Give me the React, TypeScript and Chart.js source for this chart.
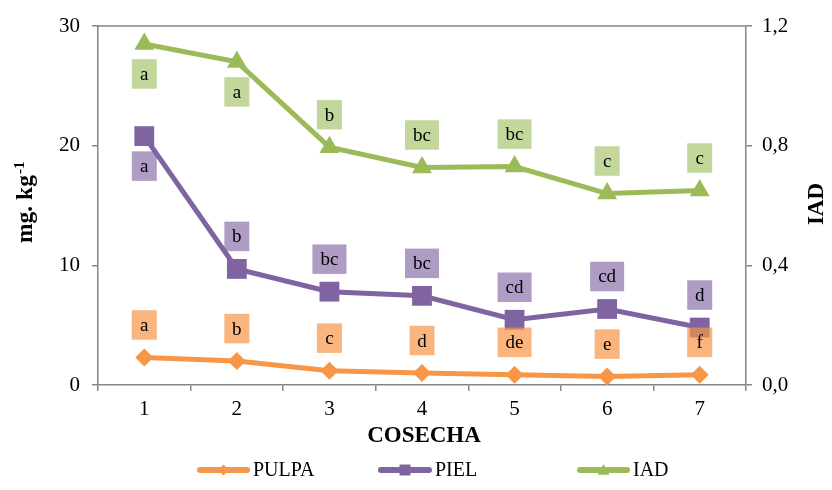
import React, { useEffect, useRef } from 'react';
import { Chart, registerables } from 'chart.js';

Chart.register(...registerables);

const SERIF = "'Liberation Serif', 'Times New Roman', serif";

const categories = ['1', '2', '3', '4', '5', '6', '7'];
const pulpa = [2.3, 2.0, 1.2, 1.0, 0.85, 0.7, 0.85];
const piel = [20.8, 9.7, 7.8, 7.45, 5.45, 6.35, 4.8];
const iad = [1.14, 1.08, 0.795, 0.727, 0.73, 0.64, 0.65];

const pulpaLetters = ['a', 'b', 'c', 'd', 'de', 'e', 'f'];
const pielLetters = ['a', 'b', 'bc', 'bc', 'cd', 'cd', 'd'];
const iadLetters = ['a', 'a', 'b', 'bc', 'bc', 'c', 'c'];

const pulpaBelow = [false, false, false, false, false, false, false];
const pielBelow = [true, false, false, false, false, false, false];
const iadBelow = [true, true, false, false, false, false, false];

const ORANGE = '#f79646';
const PURPLE = '#8064a2';
const GREEN = '#9bbb59';
const AXIS = '#868686';

function drawMarker(ctx: CanvasRenderingContext2D, shape: string, x: number, y: number, s: number) {
  ctx.beginPath();
  if (shape === 'diamond') {
    ctx.moveTo(x, y - s);
    ctx.lineTo(x + s, y);
    ctx.lineTo(x, y + s);
    ctx.lineTo(x - s, y);
  } else if (shape === 'square') {
    ctx.rect(x - s, y - s, 2 * s, 2 * s);
  } else {
    ctx.moveTo(x, y - s);
    ctx.lineTo(x + s, y + s * 0.8);
    ctx.lineTo(x - s, y + s * 0.8);
  }
  ctx.closePath();
  ctx.fill();
}

function noPad(s: any) {
  s.paddingTop = 0;
  s.paddingBottom = 0;
  s.paddingLeft = 0;
  s.paddingRight = 0;
}

const annotPlugin = {
  id: 'annot',
  afterDatasetsDraw(chart: any) {
    const ctx: CanvasRenderingContext2D = chart.ctx;
    const groups = [
      { ds: 0, letters: pulpaLetters, below: pulpaBelow, fill: 'rgba(247,150,70,0.7)' },
      { ds: 1, letters: pielLetters, below: pielBelow, fill: 'rgba(128,100,162,0.64)' },
      { ds: 2, letters: iadLetters, below: iadBelow, fill: 'rgba(155,187,89,0.6)' },
    ];
    ctx.save();
    ctx.font = `19px ${SERIF}`;
    ctx.textAlign = 'center';
    ctx.textBaseline = 'middle';
    groups.forEach((g) => {
      const meta = chart.getDatasetMeta(g.ds);
      meta.data.forEach((el: any, i: number) => {
        const t = g.letters[i];
        const w = t.length > 1 ? 34 : 25;
        const h = 29.5;
        const cy = el.y + (g.below[i] ? 30 : -32.5);
        ctx.fillStyle = g.fill;
        ctx.fillRect(el.x - w / 2, cy - h / 2, w, h);
        ctx.fillStyle = '#000';
        ctx.fillText(t, el.x, cy + 1);
      });
    });
    ctx.restore();
  },
  afterDraw(chart: any) {
    const ctx: CanvasRenderingContext2D = chart.ctx;
    const a = chart.chartArea;
    ctx.save();
    // top border
    ctx.strokeStyle = AXIS;
    ctx.lineWidth = 1.5;
    ctx.beginPath();
    ctx.moveTo(a.left, a.top);
    ctx.lineTo(a.right, a.top);
    ctx.stroke();

    // x title
    ctx.fillStyle = '#000';
    ctx.font = `bold 23px ${SERIF}`;
    ctx.textAlign = 'center';
    ctx.textBaseline = 'middle';
    ctx.fillText('COSECHA', (a.left + a.right) / 2 + 2, 428);

    // left y title with superscript
    ctx.save();
    ctx.translate(24, 235);
    ctx.rotate(-Math.PI / 2);
    ctx.textAlign = 'left';
    ctx.textBaseline = 'alphabetic';
    ctx.font = `bold 23.5px ${SERIF}`;
    const main = 'mg. kg';
    const w1 = ctx.measureText(main).width;
    ctx.fillText(main, 0, 0);
    ctx.font = `bold 15px ${SERIF}`;
    ctx.fillText('-1', w1 + 1, -8);
    ctx.restore();

    // right y title
    ctx.save();
    ctx.translate(815, 196);
    ctx.rotate(-Math.PI / 2);
    ctx.font = `bold 23px ${SERIF}`;
    ctx.textAlign = 'center';
    ctx.textBaseline = 'alphabetic';
    ctx.fillText('IAD', 0, 0);
    ctx.restore();

    // legend
    const items = [
      { x1: 189, x2: 242, label: 'PULPA', color: ORANGE, shape: 'diamond', s: 5.5 },
      { x1: 370, x2: 424, label: 'PIEL', color: PURPLE, shape: 'square', s: 5.5 },
      { x1: 569, x2: 622, label: 'IAD', color: GREEN, shape: 'triangle', s: 6 },
    ];
    const ly = 462;
    items.forEach((it) => {
      ctx.strokeStyle = it.color;
      ctx.lineWidth = 6;
      ctx.lineCap = 'round';
      ctx.beginPath();
      ctx.moveTo(it.x1 + 3, ly);
      ctx.lineTo(it.x2 - 3, ly);
      ctx.stroke();
      ctx.fillStyle = it.color;
      drawMarker(ctx, it.shape, (it.x1 + it.x2) / 2, ly, it.s);
      ctx.fillStyle = '#000';
      ctx.font = `20px ${SERIF}`;
      ctx.textAlign = 'left';
      ctx.textBaseline = 'middle';
      ctx.fillText(it.label, it.x2 + 3, ly + 1);
    });
    ctx.restore();
  },
};

export default function App() {
  const ref = useRef<HTMLCanvasElement>(null);

  useEffect(() => {
    if (!ref.current) return;
    const tickFont = { family: SERIF, size: 21 };
    const chart = new Chart(ref.current, {
      type: 'line',
      data: {
        labels: categories,
        datasets: [
          {
            label: 'PULPA',
            data: pulpa,
            borderColor: ORANGE,
            backgroundColor: ORANGE,
            borderWidth: 5,
            pointStyle: 'rectRot',
            pointRadius: 9,
            pointBorderWidth: 0,
            yAxisID: 'y',
            order: 2,
          },
          {
            label: 'PIEL',
            data: piel,
            borderColor: PURPLE,
            backgroundColor: PURPLE,
            borderWidth: 5,
            pointStyle: 'rect',
            pointRadius: 14,
            pointBorderWidth: 0,
            yAxisID: 'y',
            order: 1,
          },
          {
            label: 'IAD',
            data: iad,
            borderColor: GREEN,
            backgroundColor: GREEN,
            borderWidth: 5,
            pointStyle: 'triangle',
            pointRadius: 11.5,
            pointBorderWidth: 0,
            yAxisID: 'y1',
            order: 0,
          },
        ],
      },
      options: {
        responsive: false,
        animation: false,
        layout: { padding: { top: 18, left: 0, right: 0, bottom: 0 } },
        plugins: {
          legend: { display: false },
          tooltip: { enabled: false },
        },
        scales: {
          x: {
            type: 'category',
            offset: true,
            grid: {
              display: true,
              drawOnChartArea: false,
              drawTicks: true,
              tickLength: 6,
              color: AXIS,
              lineWidth: 1.5,
              offset: true,
            },
            border: { color: AXIS, width: 1.5 },
            ticks: { font: tickFont, color: '#000', padding: 6, maxRotation: 0 },
            afterFit: (s: any) => {
              s.height = 97;
              noPad(s);
            },
          },
          y: {
            position: 'left',
            min: 0,
            max: 30,
            grid: { drawOnChartArea: false, tickLength: 6, color: AXIS, lineWidth: 1.5 },
            border: { color: AXIS, width: 1.5 },
            ticks: { stepSize: 10, font: tickFont, color: '#000', padding: 12 },
            afterFit: (s: any) => {
              s.width = 90;
              noPad(s);
            },
          },
          y1: {
            position: 'right',
            min: 0,
            max: 1.2,
            grid: { drawOnChartArea: false, tickLength: 6, color: AXIS, lineWidth: 1.5 },
            border: { color: AXIS, width: 1.5 },
            ticks: {
              stepSize: 0.4,
              font: tickFont,
              color: '#000',
              padding: 10,
              callback: (v: any) => Number(v).toFixed(1).replace('.', ','),
            },
            afterFit: (s: any) => {
              s.width = 78;
              noPad(s);
            },
          },
        },
      },
      plugins: [annotPlugin],
    });
    return () => chart.destroy();
  }, []);

  return (
    <div style={{ width: 816, height: 474 }}>
      <canvas ref={ref} width={816} height={474} />
    </div>
  );
}
